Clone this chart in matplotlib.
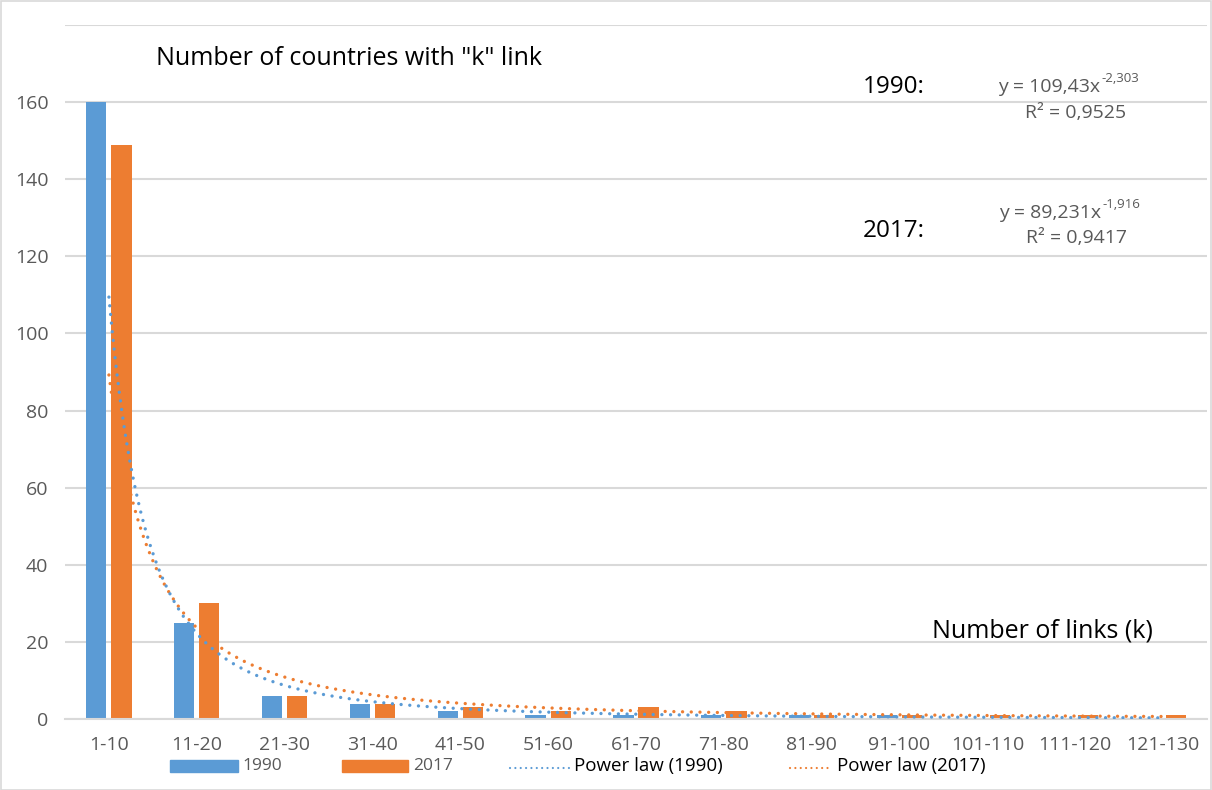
import numpy as np
import matplotlib
matplotlib.use("Agg")
import matplotlib.pyplot as plt
from matplotlib.patches import Rectangle
from matplotlib.lines import Line2D

plt.rcParams['font.family'] = ['Open Sans', 'DejaVu Sans']

categories = ["1-10", "11-20", "21-30", "31-40", "41-50", "51-60", "61-70",
              "71-80", "81-90", "91-100", "101-110", "111-120", "121-130"]
values_1990 = [160, 25, 6, 4, 2, 1, 1, 1, 1, 1, 0, 0, 0]
values_2017 = [149, 30, 6, 4, 3, 2, 3, 2, 1, 1, 1, 1, 1]
fit_1990 = (109.43, -2.303)
fit_2017 = (89.231, -1.916)
yticks = [0, 20, 40, 60, 80, 100, 120, 140, 160, 180]
ytick_labels = ["0", "20", "40", "60", "80", "100", "120", "140", "160", ""]

BLUE = "#5B9BD5"
ORANGE = "#ED7D31"
GRID = "#D9D9D9"
GRAY = "#595959"

W, H = 1212, 790
fig = plt.figure(figsize=(W / 100, H / 100), dpi=100)
fig.patch.set_facecolor("white")
fig.patches.append(Rectangle((0.5 / W, 0.5 / H), 1 - 1.5 / W, 1 - 1.5 / H,
                             transform=fig.transFigure, fill=False,
                             edgecolor=GRID, linewidth=1.2))

ax = fig.add_axes([65 / W, 1 - 719 / H, (1207 - 65) / W, (719 - 25) / H])
x = np.arange(len(categories))
bw = 0.23
off = 0.143
ax.bar(x - off, values_1990, bw, color=BLUE, zorder=2)
ax.bar(x + off, values_2017, bw, color=ORANGE, zorder=2)

xs = np.linspace(0, len(categories) - 1, 400)
dot = (0, (0.01, 2.6))
for (a, b), col in ((fit_2017, ORANGE), (fit_1990, BLUE)):
    ax.plot(xs, a * (xs + 1) ** b, color=col, lw=2.4, linestyle=dot,
            dash_capstyle='round', zorder=3)

ax.set_xlim(-0.5, len(categories) - 0.5)
ax.set_ylim(0, 180)
ax.set_yticks(yticks)
ax.set_yticklabels(ytick_labels)
ax.set_xticks(x)
ax.set_xticklabels(categories)
ax.tick_params(axis='both', length=0, colors=GRAY, labelsize=14)
ax.tick_params(axis='y', pad=12)
ax.tick_params(axis='x', pad=12)
ax.grid(axis='y', color=GRID, linewidth=1.5, zorder=0)
ax.set_axisbelow(True)
for s in ("top", "right", "left"):
    ax.spines[s].set_visible(False)
ax.spines["bottom"].set_color(GRID)
ax.spines["bottom"].set_linewidth(1.5)

# annotations
def fx(px): return px / W
def fy(py): return 1 - py / H

fig.text(fx(156), fy(65), 'Number of countries with "k" link', fontsize=18,
         color="black", ha="left", va="baseline")
fig.text(fx(932), fy(638), 'Number of links (k)', fontsize=18,
         color="black", ha="left", va="baseline")
fig.text(fx(863), fy(93), '1990:', fontsize=17.5, color="black", ha="left", va="baseline")
fig.text(fx(863), fy(237), '2017:', fontsize=17.5, color="black", ha="left", va="baseline")

def equation(main, sup, xsplit, base):
    fig.text(fx(xsplit), fy(base), main, fontsize=14, color=GRAY,
             ha="right", va="baseline")
    fig.text(fx(xsplit + 1), fy(base - 10), sup, fontsize=9.5, color=GRAY,
             ha="left", va="baseline")

equation('y = 109,43x', '-2,303', 1100, 92)
fig.text(fx(1076), fy(118), 'R² = 0,9525', fontsize=14, color=GRAY, ha="center", va="baseline")
equation('y = 89,231x', '-1,916', 1101, 218)
fig.text(fx(1076), fy(243), 'R² = 0,9417', fontsize=14, color=GRAY, ha="center", va="baseline")

# legend
ly = 766
fig.patches.append(Rectangle((fx(170), fy(772)), 68 / W, 12 / H,
                             transform=fig.transFigure, color=BLUE))
fig.text(fx(242), fy(ly), '1990', fontsize=12.5, color=GRAY, ha="left", va="center")
fig.patches.append(Rectangle((fx(342), fy(772)), 66 / W, 12 / H,
                             transform=fig.transFigure, color=ORANGE))
fig.text(fx(413), fy(ly), '2017', fontsize=12.5, color=GRAY, ha="left", va="center")
fig.lines.append(Line2D([fx(510), fx(572)], [fy(768), fy(768)], transform=fig.transFigure,
                        color=BLUE, lw=1.6, linestyle=(0, (0.01, 2.4)),
                        dash_capstyle='round'))
fig.text(fx(574), fy(ly), 'Power law (1990)', fontsize=13.5, color="black", ha="left", va="center")
fig.lines.append(Line2D([fx(790), fx(830)], [fy(768), fy(768)], transform=fig.transFigure,
                        color=ORANGE, lw=1.6, linestyle=(0, (0.01, 2.4)),
                        dash_capstyle='round'))
fig.text(fx(837), fy(ly), 'Power law (2017)', fontsize=13.5, color="black", ha="left", va="center")

fig.savefig("out.png", dpi=100, facecolor="white")
